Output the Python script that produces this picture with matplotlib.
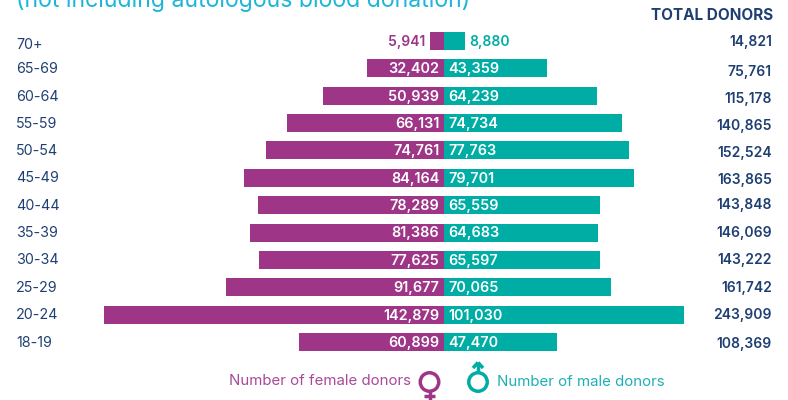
import matplotlib
matplotlib.use("Agg")
import matplotlib.pyplot as plt
from matplotlib.patches import Ellipse

ages = ["70+", "65-69", "60-64", "55-59", "50-54", "45-49", "40-44", "35-39", "30-34", "25-29", "20-24", "18-19"]
female = [5941, 32402, 50939, 66131, 74761, 84164, 78289, 81386, 77625, 91677, 142879, 60899]
male = [8880, 43359, 64239, 74734, 77763, 79701, 65559, 64683, 65597, 70065, 101030, 47470]
total = [14821, 75761, 115178, 140865, 152524, 163865, 143848, 146069, 143222, 161742, 243909, 108369]
title = "(not including autologous blood donation)"

PURPLE = "#9E3587"
TEAL = "#00ADA5"
NAVY = "#1F3F73"
CYAN = "#1DB5D8"
FONT = "Inter"
plt.rcParams["font.family"] = [FONT, "DejaVu Sans"]

W, H = 788, 400
X0 = 444            # pixel of the zero line
PX = 0.00238        # pixels per donor
Y0, DY = 41, 27.36  # pixel of first row, row spacing

fig = plt.figure(figsize=(W / 100, H / 100), dpi=100, facecolor="white")
ax = fig.add_axes([0, 0, 1, 1])
ax.set_xlim(-X0 / PX, (W - X0) / PX)
ax.set_ylim((H - Y0) / DY, -Y0 / DY)
ax.axis("off")

rows = list(range(len(ages)))
ax.barh(rows, [-v for v in female], height=18 / DY, color=PURPLE, linewidth=0)
ax.barh(rows, male, height=18 / DY, color=TEAL, linewidth=0)

tf = ax.transAxes
def px(x, y, s, **kw):
    ax.text(x / W, 1 - y / H, s, transform=tf, **kw)

age_y = [45, 69, 97, 124, 151, 178, 206, 233, 260, 288, 315, 343]
tot_y = [42, 72, 99, 126, 153, 180, 205, 233, 260, 288, 315, 344]

for i in rows:
    px(16, age_y[i], ages[i], color=NAVY, fontsize=10.3, ha="left", va="center")
    px(772, tot_y[i], f"{total[i]:,}", color=NAVY, fontsize=10, fontweight="semibold", ha="right", va="center")
    if i == 0:
        ax.annotate(f"{female[i]:,}", (-female[i], i), xytext=(-3, -0.7), textcoords="offset points",
                    color=PURPLE, fontsize=10, fontweight="semibold", ha="right", va="center")
        ax.annotate(f"{male[i]:,}", (male[i], i), xytext=(3, -0.7), textcoords="offset points",
                    color=TEAL, fontsize=10, fontweight="semibold", ha="left", va="center")
    else:
        ax.annotate(f"{female[i]:,}", (0, i), xytext=(-3.4, -0.7), textcoords="offset points",
                    color="white", fontsize=10.4, fontweight="semibold", ha="right", va="center")
        ax.annotate(f"{male[i]:,}", (0, i), xytext=(3, -0.7), textcoords="offset points",
                    color="white", fontsize=10.4, fontweight="semibold", ha="left", va="center")

px(16, 0.5, title, color=CYAN, fontsize=16.6, ha="left", va="center")
px(773, 15, "TOTAL DONORS", color=NAVY, fontsize=11, fontweight="bold", ha="right", va="center")

px(411, 381, "Number of female donors", color="#A8499A", fontsize=10.8, ha="right", va="center")
px(497, 382, "Number of male donors", color="#1DB0B5", fontsize=10.8, ha="left", va="center")

# gender icons, placed in pixel positions
LW = 2.5
def ring(cx, cy, color):
    ax.add_patch(Ellipse((cx / W, 1 - cy / H), 18.5 / W, 18.5 / H, transform=tf, fill=False,
                         edgecolor=color, linewidth=LW))
def seg(x1, y1, x2, y2, color):
    ax.plot([x1 / W, x2 / W], [1 - y1 / H, 1 - y2 / H], transform=tf, color=color,
            linewidth=LW, solid_capstyle="butt")

ring(429.5, 382, PURPLE)
seg(429.5, 391, 429.5, 400, PURPLE)
seg(424, 396, 435, 396, PURPLE)

ring(478, 382, TEAL)
seg(478, 373, 478, 363, TEAL)
seg(473, 368, 478, 362.5, TEAL)
seg(483, 368, 478, 362.5, TEAL)

fig.savefig("out.png", dpi=100)
